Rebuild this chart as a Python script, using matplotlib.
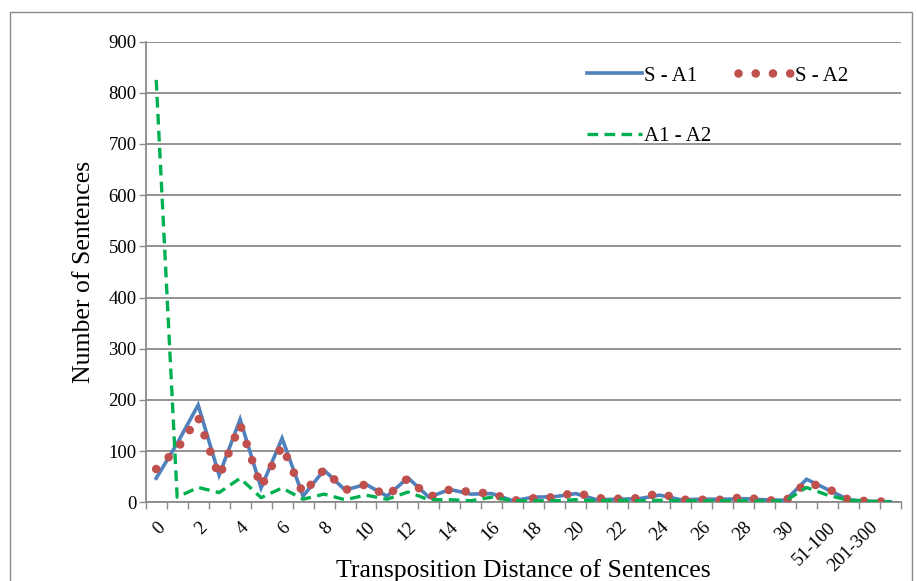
import matplotlib
matplotlib.use("Agg")
import matplotlib.pyplot as plt
from matplotlib.patches import Rectangle
from matplotlib.ticker import MultipleLocator
from matplotlib.transforms import ScaledTranslation

categories = [str(i) for i in range(31)] + ["31-50", "51-100", "101-200", "201-300", "301-400"]

s_a1 = [47, 115, 190, 53, 162, 28, 125, 12, 63, 24, 35, 12, 48, 10, 25, 16, 17, 3,
        10, 11, 17, 5, 6, 7, 14, 5, 6, 6, 7, 5, 4, 45, 25, 5, 2, 1]
s_a2 = [65, 104, 166, 50, 152, 30, 110, 17, 64, 24, 35, 12, 47, 10, 25, 20, 17, 3,
        8, 10, 19, 8, 7, 8, 18, 5, 5, 5, 10, 4, 3, 39, 27, 5, 2, 1]
a1_a2 = [825, 10, 29, 19, 47, 9, 28, 6, 16, 5, 14, 6, 20, 5, 5, 3, 10, 3,
         3, 3, 5, 3, 4, 3, 4, 3, 3, 3, 3, 2, 3, 29, 14, 4, 2, 1]

series_names = ["S - A1", "S - A2", "A1 - A2"]
y_ticks = list(range(0, 901, 100))

W, H = 917, 581
fig = plt.figure(figsize=(W / 100, H / 100), dpi=100)
plt.rcParams['font.family'] = ['Liberation Serif', 'DejaVu Serif']

# outer chart border
fig.patches.append(Rectangle((9.5 / W, -0.05), (912 - 9.5) / W, 1.05 - 12.5 / H,
                             transform=fig.transFigure, fill=False,
                             edgecolor='#8c8c8c', linewidth=1.0))

ax = fig.add_axes([145.7 / W, 1 - 502.3 / H, (901 - 145.7) / W, (502.3 - 41.5) / H])

x = list(range(len(categories)))
grid_c = '#8a8a8a'

l1, = ax.plot(x, s_a1, color='#4F81BD', linewidth=2.6, label=series_names[0],
              solid_joinstyle='miter', zorder=3)
l2, = ax.plot(x, s_a2, color='#C0504D', linewidth=6.2, linestyle=(0, (0.001, 2.0)),
              dash_capstyle='round', label=series_names[1], zorder=4)
l3, = ax.plot(x, a1_a2, color='#00B050', linewidth=2.4, linestyle=(0, (3.2, 1.9)),
              dash_capstyle='butt', label=series_names[2], zorder=5)

ax.set_xlim(-0.5, len(categories) - 0.5)
ax.set_ylim(0, 900)
ax.set_yticks(y_ticks)
ax.set_yticklabels([str(v) for v in y_ticks], fontsize=13.5)
ax.yaxis.grid(True, color=grid_c, linewidth=1.3)
ax.set_axisbelow(True)

ax.set_xticks(x)
ax.set_xticklabels([c if i % 2 == 0 else "" for i, c in enumerate(categories)],
                   rotation=45, ha='right', va='top', rotation_mode='anchor',
                   fontsize=13.5)
shift = ScaledTranslation(-3 / 100, 0, fig.dpi_scale_trans)
for lab in ax.get_xticklabels():
    lab.set_transform(lab.get_transform() + shift)
ax.xaxis.set_minor_locator(MultipleLocator(1, offset=0.5))
ax.tick_params(axis='x', which='major', length=0, pad=12)
ax.tick_params(axis='x', which='minor', length=5, width=1.0, color=grid_c, direction='out')
ax.tick_params(axis='y', which='major', length=5, width=1.0, color=grid_c, direction='out', pad=1.5)

for s in ['top', 'right']:
    ax.spines[s].set_visible(False)
for s in ['left', 'bottom']:
    ax.spines[s].set_color(grid_c)
    ax.spines[s].set_linewidth(1.3)

ax.set_ylabel("Number of Sentences", fontsize=18.5, labelpad=10)
ax.set_xlabel("Transposition Distance of Sentences", fontsize=18.5)
ax.xaxis.set_label_coords(0.5, -(559 - 502.3) / (502.3 - 41.5))

leg = ax.legend([l1, l3, l2], [series_names[0], series_names[2], series_names[1]],
                loc='upper left', bbox_to_anchor=(587 / W, 1 - 66 / H),
                bbox_transform=fig.transFigure, ncol=2, frameon=False,
                fontsize=15, handlelength=2.65, handletextpad=0.1,
                columnspacing=1.25, labelspacing=1.97, borderpad=0, borderaxespad=0)

fig.savefig("out.png", dpi=100)
